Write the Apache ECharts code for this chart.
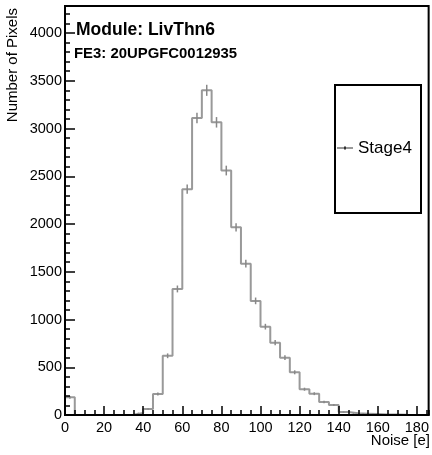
<!DOCTYPE html>
<html>
<head>
<meta charset="utf-8">
<script src="https://cdn.jsdelivr.net/npm/echarts@6/dist/echarts.min.js"></script>
<style>
html,body{margin:0;padding:0;background:#fff;}
#chart{width:432px;height:455px;}
</style>
</head>
<body>
<div id="chart"></div>
<script>
// Histogram bin lower edges (Noise [e]), width 5
var binStarts = [0,5,10,15,20,25,30,35,40,45,50,55,60,65,70,75,80,85,90,95,100,105,110,115,120,125,130,135,140,145,150,155,160,165,170,175,180];
var binWidth = 5;
// Stage4 counts per bin
var counts = [185,0,0,0,0,0,3,20,62,220,620,1320,2365,3110,3400,3065,2560,1965,1585,1195,925,757,600,447,270,223,136,105,31,18,14,10,6,4,2,1,0];
// error bar half-heights per bin
var errors = [14,0,0,0,0,0,2,4.5,8,15,25,36,49,56,58,55,51,44,40,35,30,27.5,24.5,21,16,15,12,10,5.6,4.2,3.7,3.2,2.4,2,1.4,1,0];
var xTickLabels = [0,20,40,60,80,100,120,140,160,180];
var yTickLabels = [0,500,1000,1500,2000,2500,3000,3500,4000];
var seriesName = 'Stage4';
var moduleTitle = 'Module: LivThn6';
var feTitle = 'FE3: 20UPGFC0012935';
var xTitle = 'Noise [e]';
var yTitle = 'Number of Pixels';

var X_MAX = 186, Y_MAX = 4283;
var FONT = '"Liberation Sans", Arial, Helvetica, sans-serif';

var stepData = [[binStarts[0], 0]];
for (var i = 0; i < binStarts.length; i++) stepData.push([binStarts[i], counts[i]]);
stepData.push([binStarts[binStarts.length-1] + binWidth, counts[counts.length-1]]);

var errData = [];
for (var j = 0; j < binStarts.length; j++) {
  if (counts[j] > 0) errData.push([binStarts[j] + binWidth/2, counts[j], errors[j]]);
}

var chart = echarts.init(document.getElementById('chart'), null, {renderer:'canvas'});
var option = {
  animation:false,
  backgroundColor:'#fff',
  grid:{left:65, right:2, top:6, bottom:40, show:true, borderColor:'#000', borderWidth:2, backgroundColor:'transparent', z:10},
  xAxis:[
    {type:'value', min:0, max:X_MAX, interval:20, position:'bottom', z:10,
     axisLine:{show:true, lineStyle:{color:'#000', width:2}},
     axisTick:{show:true, inside:true, length:9, lineStyle:{color:'#000', width:1.5}},
     axisLabel:{margin:5, showMaxLabel:false, formatter:function(v){return xTickLabels.indexOf(v)>=0 ? String(v) : '';}, color:'#000', fontSize:14.5, fontFamily:FONT},
     splitLine:{show:false}},
    {type:'value', min:0, max:X_MAX, interval:5, position:'bottom', z:10,
     axisLine:{show:false},
     axisTick:{show:true, inside:true, length:5, lineStyle:{color:'#000', width:1.5}},
     axisLabel:{show:false}, splitLine:{show:false}}
  ],
  yAxis:[
    {type:'value', min:0, max:Y_MAX, interval:500, position:'left', z:10,
     axisLine:{show:true, lineStyle:{color:'#000', width:2}},
     axisTick:{show:true, inside:true, length:10, lineStyle:{color:'#000', width:1.5}},
     axisLabel:{margin:3, showMaxLabel:false, formatter:function(v){return yTickLabels.indexOf(v)>=0 ? String(v) : '';}, color:'#000', fontSize:14.5, fontFamily:FONT},
     splitLine:{show:false}},
    {type:'value', min:0, max:Y_MAX, interval:100, position:'left', z:10,
     axisLine:{show:false},
     axisTick:{show:true, inside:true, length:5, lineStyle:{color:'#000', width:1.5}},
     axisLabel:{show:false}, splitLine:{show:false}}
  ],
  legend:{
    show:true, left:337, top:138, padding:0, itemWidth:16, itemHeight:5,
    data:[{name:seriesName, icon:'path://M0,2H16V3H0ZM7,1H9V4H7Z'}],
    itemStyle:{color:'#333'},
    textStyle:{color:'#000', fontSize:17, fontFamily:FONT, lineHeight:20}
  },
  series:[
    {name:seriesName, type:'line', xAxisIndex:0, yAxisIndex:0, step:'end', data:stepData,
     symbol:'none', lineStyle:{color:'#999', width:2}, itemStyle:{color:'#999'}, z:3},
    {name:seriesName+' err', type:'custom', xAxisIndex:0, yAxisIndex:0, data:errData, z:4,
     renderItem:function(params, api){
       var c = api.value(0), v = api.value(1), e = api.value(2);
       var p1 = api.coord([c, v + e]), p2 = api.coord([c, v - e]);
       return {type:'line', shape:{x1:p1[0], y1:p1[1], x2:p2[0], y2:p2[1]}, style:{stroke:'#888', lineWidth:1.5}};
     }}
  ],
  graphic:[
    {type:'rect', left:334, top:84, shape:{width:86, height:128}, style:{fill:'#fff', stroke:'#000', lineWidth:2}, z:1},
    {type:'text', x:76, y:30, style:{text:moduleTitle, fill:'#000', font:'bold 17.5px '+FONT, textAlign:'left', textVerticalAlign:'middle'}, z:20},
    {type:'text', x:74, y:54, style:{text:feTitle, fill:'#000', font:'bold 14.9px '+FONT, textAlign:'left', textVerticalAlign:'middle'}, z:20},
    {type:'text', x:430, y:441, style:{text:xTitle, fill:'#000', font:'15px '+FONT, textAlign:'right', textVerticalAlign:'middle'}, z:20},
    {type:'text', x:13, y:8, rotation:Math.PI/2, style:{text:yTitle, fill:'#000', font:'15px '+FONT, textAlign:'right', textVerticalAlign:'middle'}, z:20}
  ]
};
chart.setOption(option);
</script>
</body>
</html>
